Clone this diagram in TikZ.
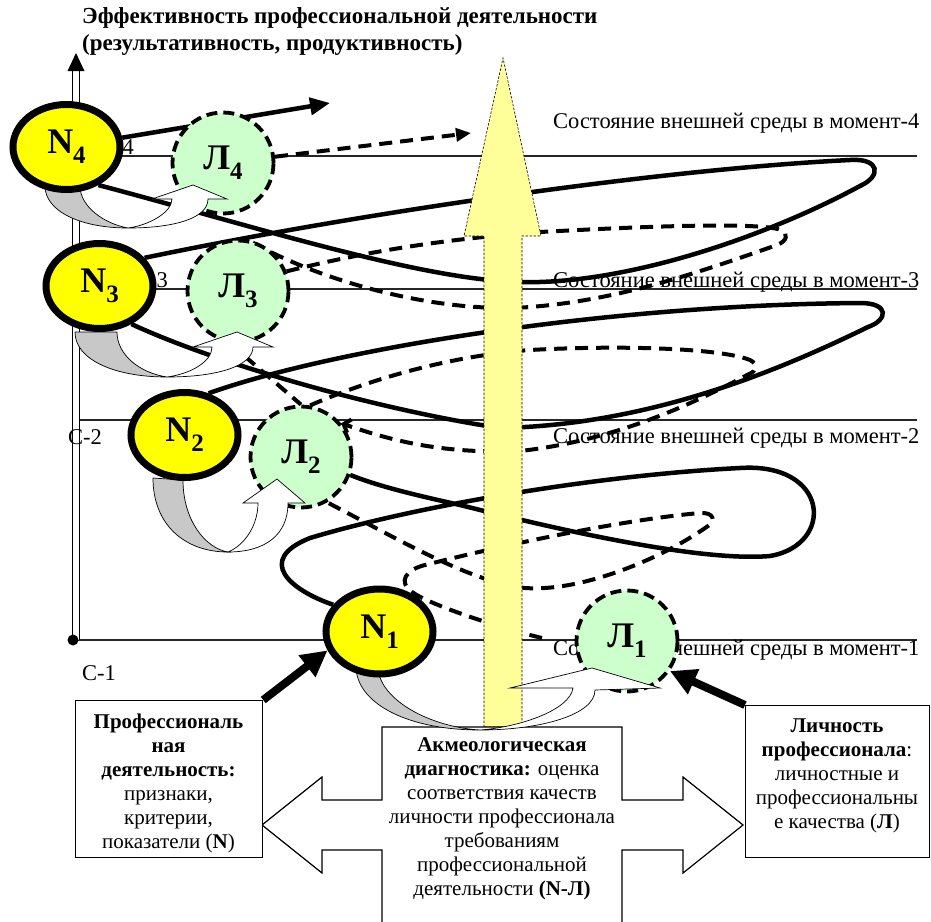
\documentclass[tikz,border=0pt]{standalone}
\usepackage{fontspec}
\setmainfont{Liberation Serif}
\usetikzlibrary{shapes.geometric,arrows.meta}
\definecolor{nyel}{RGB}{255,255,0}
\definecolor{lgreen}{RGB}{204,255,204}
\definecolor{pyel}{RGB}{255,255,153}
\definecolor{bgray}{RGB}{200,200,200}
\pgfdeclarelayer{envl}
\pgfdeclarelayer{curvl}
\pgfdeclarelayer{yell}
\pgfsetlayers{envl,curvl,yell,main}
\newcommand{\lsub}[1]{\raisebox{-0.28em}{\fontsize{25}{25}\selectfont #1}}
\begin{document}
\begin{tikzpicture}[x=1pt,y=-1pt,
  nnode/.style={ellipse, fill=nyel, draw=black, line width=7pt, minimum width=107pt, minimum height=85pt, inner sep=0pt, font=\fontsize{36}{36}\selectfont\bfseries},
  lnode/.style={circle, fill=lgreen, draw=black, line width=3.8pt, dash pattern=on 11pt off 6pt, minimum size=101pt, inner sep=0pt, font=\fontsize{36}{36}\selectfont\bfseries},
  sline/.style={line width=4.5pt},
  dline/.style={line width=4pt, dash pattern=on 13pt off 8pt},
  envline/.style={line width=1.1pt, black!85},
  lbl/.style={font=\fontsize{22.5}{22.5}\selectfont, inner sep=0pt},
  boxtext/.style={font=\fontsize{21}{24}\selectfont, align=center, inner sep=0pt},
  bigbox/.style={draw=black, line width=1.2pt, fill=white, inner sep=0pt},
  garrow/.style={fill=bgray, draw=black, line width=0.7pt},
  warrow/.style={fill=white, draw=black, line width=0.7pt},
  thickarr/.style={line width=8pt, -{Triangle[length=26pt,width=26pt]}}
]
\useasboundingbox (0,0) rectangle (931,921);

% title
\node[anchor=base west, font=\fontsize{23}{23}\selectfont\bfseries, inner sep=0pt] (title1) at (82,23) {Эффективность профессиональной деятельности};
\node[anchor=base west, font=\fontsize{23}{23}\selectfont\bfseries, inner sep=0pt] (title2) at (82,50) {(результативность, продуктивность)};

% central callout
\filldraw[fill=white, draw=black, line width=1.2pt] (382,930) -- (382,850) -- (322,850) -- (322,873) -- (262,825) -- (322,777) -- (322,800) -- (382,800) -- (382,727) -- (622,727) -- (622,800) -- (683,800) -- (683,777) -- (743,825) -- (683,873) -- (683,850) -- (622,850) -- (622,930);
\node[boxtext] (C) at (502,819) {\textbf{Акмеологическая}\\\textbf{диагностика:} оценка\\соответствия качеств\\личности профессионала\\требованиям\\профессиональной\\деятельности \textbf{(N-Л)}};

% side boxes
\node[bigbox, minimum width=187pt, minimum height=157pt, anchor=north west] (B1) at (75,700) {};
\node[boxtext] (T1) at (168.5,783) {\textbf{Профессиональ}\\\textbf{ная}\\\textbf{деятельность:}\\признаки,\\критерии,\\показатели (\textbf{N})};
\node[bigbox, minimum width=184pt, minimum height=152pt, anchor=north west] (B3) at (745,705) {};
\node[boxtext] (T3) at (837,776) {\textbf{Личность}\\\textbf{профессионала}:\\личностные и\\профессиональны\\е качества (\textbf{Л})};

% L circles
\node[lnode] (L4) at (223,163) {Л\lsub{4}};
\node[lnode] (L3) at (238,291) {Л\lsub{3}};
\node[lnode] (L2) at (301,457) {Л\lsub{2}};
\node[lnode] (L1) at (627,641) {Л\lsub{1}};

% curved block arrows N -> L
\filldraw[garrow] (45,186) .. controls (45,211) and (80,228) .. (128,228) .. controls (105,224) and (80,207) .. (80,186) -- cycle;
\filldraw[warrow] (128,228) .. controls (175,228) and (208,218) .. (208,199) -- (227,199) -- (193,185) -- (152,199) -- (172,199) .. controls (172,212) and (150,225) .. (128,228) -- cycle;

\filldraw[garrow] (75,332) .. controls (75,360) and (115,377) .. (167,377) .. controls (140,373) and (117,355) .. (117,332) -- cycle;
\filldraw[warrow] (167,377) .. controls (220,377) and (253,365) .. (253,347) -- (273,347) -- (237,332) -- (193,347) -- (212,347) .. controls (212,362) and (190,374) .. (167,377) -- cycle;

\filldraw[garrow] (153,478) .. controls (153,525) and (185,552) .. (228,552) .. controls (205,548) and (183,520) .. (183,480) -- cycle;
\filldraw[warrow] (228,552) .. controls (265,552) and (288,535) .. (288,503) -- (305,503) -- (277,479) -- (243,503) -- (258,503) .. controls (258,525) and (245,545) .. (228,552) -- cycle;

\filldraw[garrow] (356,668) .. controls (358,705) and (410,730) .. (480,730) .. controls (430,727) and (380,700) .. (378,668) -- cycle;
\filldraw[warrow] (480,730) .. controls (540,730) and (595,715) .. (595,690) -- (660,688) -- (592,668) -- (510,688) -- (573,688) .. controls (570,710) and (520,727) .. (480,730) -- cycle;

% N ellipses
\node[nnode] (N4) at (66.5,147) {N\lsub{4}};
\node[nnode] (N3) at (99.5,286) {N\lsub{3}};
\node[nnode] (N2) at (184.5,435) {N\lsub{2}};
\node[nnode] (N1) at (379.5,631.5) {N\lsub{1}};

% thick arrows from boxes
\draw[thickarr] (B1.north east) -- (N1.200);
\draw[thickarr] (B3.north west) -- (L1.-35);

% environment lines and labels
\begin{pgfonlayer}{envl}
\draw[envline] (76,156) -- (917,156);
\draw[envline] (76,289) -- (917,289);
\draw[envline] (76,420) -- (917,420);
\draw[envline] (76,640) -- (917,640);
\draw[draw=black, double=white, double distance=5.5pt, line width=1.3pt] (76,640) -- (76,70);
\fill[black] (67.5,71) -- (76,53) -- (84.5,71) -- cycle;
\fill[black] (73,640) circle[radius=5.5];
\node[lbl, anchor=base west] (S4) at (553,128) {Состояние внешней среды в момент-4};
\node[lbl, anchor=base west] (S3) at (553,287) {Состояние внешней среды в момент-3};
\node[lbl, anchor=base west] (S2) at (553,443) {Состояние внешней среды в момент-2};
\node[lbl, anchor=base west] (S1) at (553,655) {Состояние внешней среды в момент-1};
\node[lbl, anchor=base east] (C4) at (134,154) {С-4};
\node[lbl, anchor=base east] (C3) at (168,287) {С-3};
\node[lbl, anchor=base west] (C2) at (68,444) {С-2};
\node[lbl, anchor=base west] (C1) at (82,680) {С-1};
\end{pgfonlayer}

% spiral curves
\begin{pgfonlayer}{curvl}
\coordinate (t4) at (330,103);
\coordinate (t4d) at (471,133);
\coordinate (d1s) at (542,638);
\draw[sline, -{Triangle[length=20pt,width=17pt]}] (N4) -- (t4);
\draw[dline, -{Triangle[length=15pt,width=13pt]}] (L4) -- (t4d);
% level 3
\draw[sline] (N3.32) .. controls (350,215) and (650,170) .. (850,160) .. controls (880,158) and (882,176) .. (860,186) .. controls (760,240) and (620,285) .. (520,282) .. controls (420,280) and (250,225) .. (N4.-50);
\draw[dline] (L3.22) .. controls (380,248) and (460,238) .. (540,232) .. controls (650,226) and (760,222) .. (781,230) .. controls (789,234) and (787,241) .. (777,245) .. controls (700,272) and (620,300) .. (530,307) .. controls (440,314) and (320,282) .. (L3.80);
% level 2
\draw[sline] (N2.60) .. controls (330,350) and (600,305) .. (860,303) .. controls (890,303) and (888,320) .. (868,327) .. controls (780,370) and (650,425) .. (500,428) .. controls (380,410) and (220,365) .. (N3.-50);
\draw[dline] (L3.-100) -- (L2.90);
\draw[dline, -{Straight Barb[length=6pt,width=14pt]}] (L2.80) .. controls (380,375) and (460,355) .. (530,350) .. controls (620,345) and (720,348) .. (750,360) .. controls (758,364) and (757,371) .. (749,374) .. controls (700,400) and (620,440) .. (520,451) .. controls (440,454) and (390,440) .. (L2.40);
% level 1
\draw[sline] (N1.150) .. controls (290,590) and (255,560) .. (310,538) .. controls (420,505) and (600,475) .. (740,468) .. controls (830,462) and (835,545) .. (770,556) .. controls (700,562) and (560,530) .. (460,505) .. controls (420,496) and (380,487) .. (L2.-20);
\draw[dline] (d1s) .. controls (500,628) and (430,605) .. (412,592) .. controls (398,582) and (405,570) .. (425,565) .. controls (500,546) and (620,520) .. (700,513) .. controls (714,512) and (716,521) .. (708,526) .. controls (660,560) and (580,592) .. (525,588) .. controls (470,582) and (400,540) .. (L2.-60);
\end{pgfonlayer}

% yellow arrow
\begin{pgfonlayer}{yell}
\filldraw[fill=pyel, draw=black, line width=0.6pt, dash pattern=on 2.5pt off 1.5pt] (484,727) -- (484,236) -- (464,236) -- (503,58) -- (541,236) -- (522,236) -- (522,727) -- cycle;
\end{pgfonlayer}
\end{tikzpicture}
\end{document}
